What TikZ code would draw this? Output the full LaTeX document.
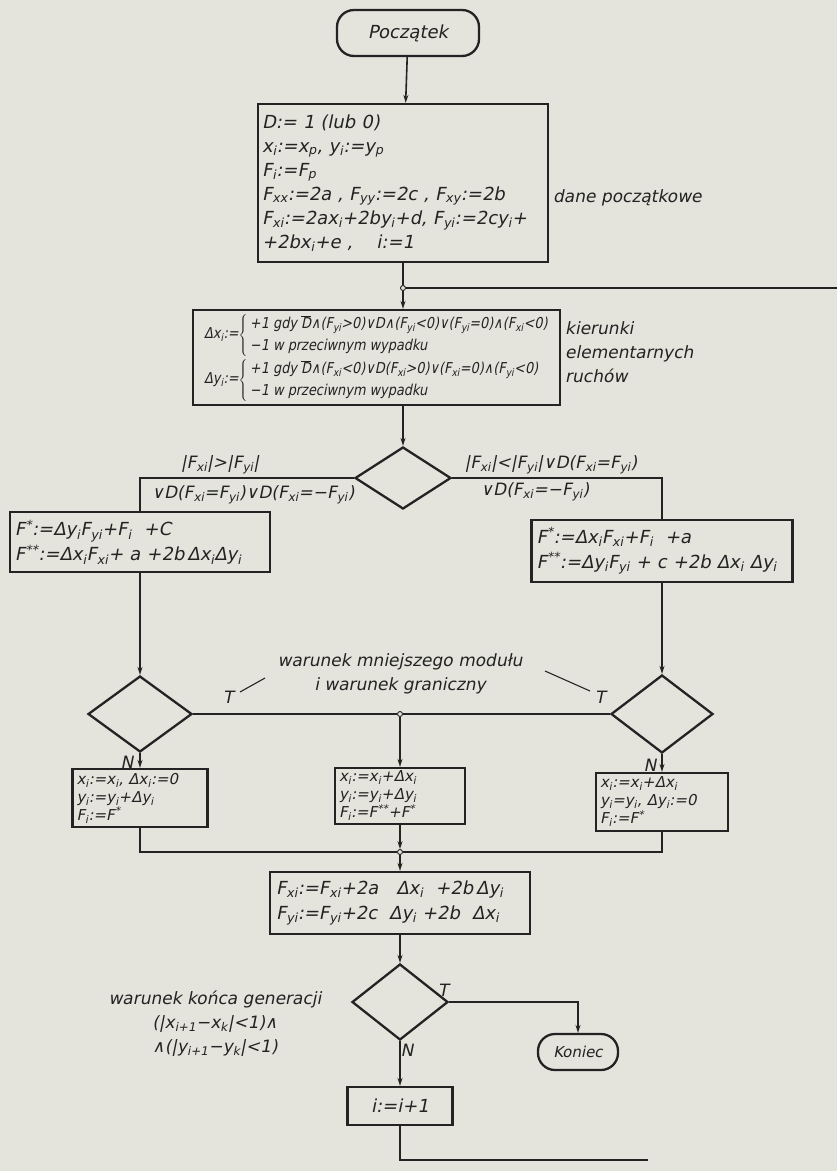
\documentclass[tikz,border=0pt]{standalone}
\usepackage{fontspec}
\setmainfont{DejaVu Sans}[FakeSlant=0.2]
\newfontfamily\narrowlettering{DejaVu Sans}[FakeSlant=0.2, FakeStretch=0.86]
\usetikzlibrary{shapes.geometric,arrows.meta}

\definecolor{paper}{RGB}{228,228,221}
\definecolor{ink}{RGB}{35,35,35}

\newcommand\sub[1]{\textsubscript{#1}}
\newcommand\sups[1]{\textsuperscript{#1}}
\newcommand\Dbar{\ensuremath{\overline{\mbox{D}}}}
\newcommand\fsInit{\fontsize{18}{24}\selectfont}
\newcommand\fsDelta{\narrowlettering\fontsize{15}{22.5}\selectfont}
\newcommand\fsBox{\fontsize{18}{25}\selectfont}
\newcommand\fsRow{\fontsize{15}{18}\selectfont}
\newcommand\fsNote{\fontsize{17}{24}\selectfont}

\tikzset{
  procbox/.style={draw=ink, line width=2.3pt, rectangle, inner xsep=6pt, inner ysep=0pt, align=left, text=ink},
  terminal/.style={draw=ink, line width=2.3pt, rectangle, rounded corners=17pt, inner sep=0pt, text=ink},
  decision/.style={draw=ink, line width=2.3pt, diamond, inner sep=0pt},
  junction/.style={draw=ink, circle, fill=paper, line width=0.9pt, inner sep=0pt, minimum size=5pt},
  conn/.style={draw=ink, line width=1.6pt},
  arr/.style={conn, -{Stealth[length=8pt,width=5pt]}},
  lbl/.style={text=ink, inner sep=0pt, align=center},
  leader/.style={draw=ink, line width=1.1pt},
}

\begin{document}
\begin{tikzpicture}[x=1pt, y=-1pt]
\useasboundingbox (0,0) rectangle (837,1171);
\fill[paper] (0,0) rectangle (837,1171);

% start
\node[terminal, minimum width=142pt, minimum height=46pt, font=\fsInit] (start) at (408,33) {Początek};

% initial data
\node[procbox, minimum width=290pt, minimum height=158pt, text width=282pt, inner xsep=4pt, font=\fsInit] (init) at (403,183) {%
D:= 1 (lub 0)\\
x\sub{i}:=x\sub{p}, y\sub{i}:=y\sub{p}\\
F\sub{i}:=F\sub{p}\\
F\sub{xx}:=2a , F\sub{yy}:=2c , F\sub{xy}:=2b\\
F\sub{xi}:=2ax\sub{i}+2by\sub{i}+d, F\sub{yi}:=2cy\sub{i}+\\
+2bx\sub{i}+e ,\quad\ i:=1};
\node[lbl, anchor=west, font=\fsNote] (initnote) at (553,198) {dane początkowe};

\node[junction] (j1) at (403,288) {};
\coordinate (loopR) at (837,288);

% elementary moves
\node[procbox, minimum width=367pt, minimum height=95pt, inner xsep=3pt, font=\fsDelta] (delta) at (376.5,357.5) {%
\begin{tabular}{@{}l@{}l@{}}
Δx\sub{i}:= & $\left\{\,\begin{tabular}{@{}l@{}}+1 gdy \Dbar∧(F\sub{yi}>0)∨D∧(F\sub{yi}<0)∨(F\sub{yi}=0)∧(F\sub{xi}<0)\\ −1 w przeciwnym wypadku\end{tabular}\right.$\\
Δy\sub{i}:= & $\left\{\,\begin{tabular}{@{}l@{}}+1 gdy \Dbar∧(F\sub{xi}<0)∨D(F\sub{xi}>0)∨(F\sub{xi}=0)∧(F\sub{yi}<0)\\ −1 w przeciwnym wypadku\end{tabular}\right.$
\end{tabular}};
\node[lbl, anchor=west, align=left, font=\fsNote] (deltanote) at (565,352) {kierunki\\elementarnych\\ruchów};

% first decision
\node[decision, minimum width=96pt, minimum height=62pt] (d1) at (403,478) {};
\node[lbl, font=\fsNote] (c1a) at (220,465) {|F\sub{xi}|>|F\sub{yi}|};
\node[lbl, font=\fsNote] (c1b) at (253,495) {∨D(F\sub{xi}=F\sub{yi})∨D(F\sub{xi}=−F\sub{yi})};
\node[lbl, font=\fsNote] (c2a) at (551,465) {|F\sub{xi}|<|F\sub{yi}|∨D(F\sub{xi}=F\sub{yi})};
\node[lbl, font=\fsNote] (c2b) at (535,492) {∨D(F\sub{xi}=−F\sub{yi})};

% trial values
\node[procbox, minimum width=260pt, minimum height=60pt, text width=250pt, inner xsep=5pt, font=\fsBox] (lF) at (140,542) {%
F\sups{*}:=Δy\sub{i}F\sub{yi}+F\sub{i}\ \ +C\\
F\sups{**}:=Δx\sub{i}F\sub{xi}+\ a\ +2b\,Δx\sub{i}Δy\sub{i}};
\node[procbox, minimum width=261pt, minimum height=62pt, text width=251pt, inner xsep=5pt, font=\fsBox] (rF) at (662,551) {%
F\sups{*}:=Δx\sub{i}F\sub{xi}+F\sub{i}\ \ +a\\
F\sups{**}:=Δy\sub{i}F\sub{yi}\ +\ c\ +2b\ Δx\sub{i}\ Δy\sub{i}};

% second level decisions
\node[decision, minimum width=104pt, minimum height=76pt] (d2) at (140,714) {};
\node[decision, minimum width=102pt, minimum height=78pt] (d3) at (662,714) {};
\node[junction] (j2) at (400,714) {};
\node[lbl, font=\fsNote] (cond) at (400,674) {warunek mniejszego modułu\\i warunek graniczny};
\node[lbl, font=\fsNote] (tL) at (228,697) {T};
\node[lbl, font=\fsNote] (tR) at (600,697) {T};
\node[lbl, font=\fsNote] (nL) at (127,762) {N};
\node[lbl, font=\fsNote] (nR) at (650,765) {N};
\coordinate (lw1) at (240,692);
\coordinate (lw2) at (265,678);
\coordinate (rw1) at (545,671);
\coordinate (rw2) at (590,691);

% steps
\node[procbox, minimum width=135pt, minimum height=58pt, text width=127pt, inner xsep=4pt, font=\fsRow] (bL) at (140,798) {%
x\sub{i}:=x\sub{i}, Δx\sub{i}:=0\\
y\sub{i}:=y\sub{i}+Δy\sub{i}\\
F\sub{i}:=F\sups{*}};
\node[procbox, minimum width=130pt, minimum height=56pt, text width=122pt, inner xsep=4pt, font=\fsRow] (bM) at (400,796) {%
x\sub{i}:=x\sub{i}+Δx\sub{i}\\
y\sub{i}:=y\sub{i}+Δy\sub{i}\\
F\sub{i}:=F\sups{**}+F\sups{*}};
\node[procbox, minimum width=132pt, minimum height=58pt, text width=124pt, inner xsep=4pt, font=\fsRow] (bR) at (662,802) {%
x\sub{i}:=x\sub{i}+Δx\sub{i}\\
y\sub{i}=y\sub{i}, Δy\sub{i}:=0\\
F\sub{i}:=F\sups{*}};

\node[junction] (j3) at (400,852) {};

% gradient update
\node[procbox, minimum width=260pt, minimum height=62pt, text width=248pt, inner xsep=6pt, font=\fsBox] (fx) at (400,903) {%
F\sub{xi}:=F\sub{xi}+2a\quad Δx\sub{i}\ \ +2b\,Δy\sub{i}\\
F\sub{yi}:=F\sub{yi}+2c\ \ Δy\sub{i}\ +2b\ \ Δx\sub{i}};

% end test
\node[decision, minimum width=96pt, minimum height=76pt] (d4) at (400,1002) {};
\node[lbl, font=\fsNote, align=center] (endcond) at (215,1024) {warunek końca generacji\\(|x\sub{i+1}−x\sub{k}|<1)∧\\∧(|y\sub{i+1}−y\sub{k}|<1)};
\node[lbl, font=\fsNote] (tE) at (443,990) {T};
\node[lbl, font=\fsNote] (nE) at (407,1050) {N};
\node[terminal, minimum width=80pt, minimum height=36pt, font=\fsRow] (koniec) at (578,1052) {Koniec};
\node[procbox, minimum width=105pt, minimum height=38pt, align=center, font=\fsBox] (inc) at (400,1106) {i:=i+1};
\coordinate (loopB) at (648,1160);

% connectors
\draw[arr] (start) -- (init);
\draw[conn] (init) -- (j1);
\draw[conn] (j1) -- (loopR);
\draw[arr] (j1) -- (j1 |- delta.north);
\draw[arr] (d1 |- delta.south) -- (d1);
\draw[conn] (d1.west) -| (lF);
\draw[conn] (d1.east) -| (rF);
\draw[arr] (lF) -- (d2);
\draw[arr] (rF) -- (d3);
\draw[conn] (d2.east) -- (j2);
\draw[conn] (j2) -- (d3.west);
\draw[arr] (d2.south) -- (bL);
\draw[arr] (j2) -- (bM);
\draw[arr] (d3.south) -- (bR);
\draw[leader] (lw1) -- (lw2);
\draw[leader] (rw1) -- (rw2);
\draw[conn] (bL) |- (j3);
\draw[conn] (bR) |- (j3);
\draw[arr] (bM) -- (j3);
\draw[arr] (j3) -- (fx);
\draw[arr] (fx) -- (d4);
\draw[arr] (d4.east) -| (koniec);
\draw[arr] (d4.south) -- (inc);
\draw[conn] (inc) |- (loopB);
\end{tikzpicture}
\end{document}
